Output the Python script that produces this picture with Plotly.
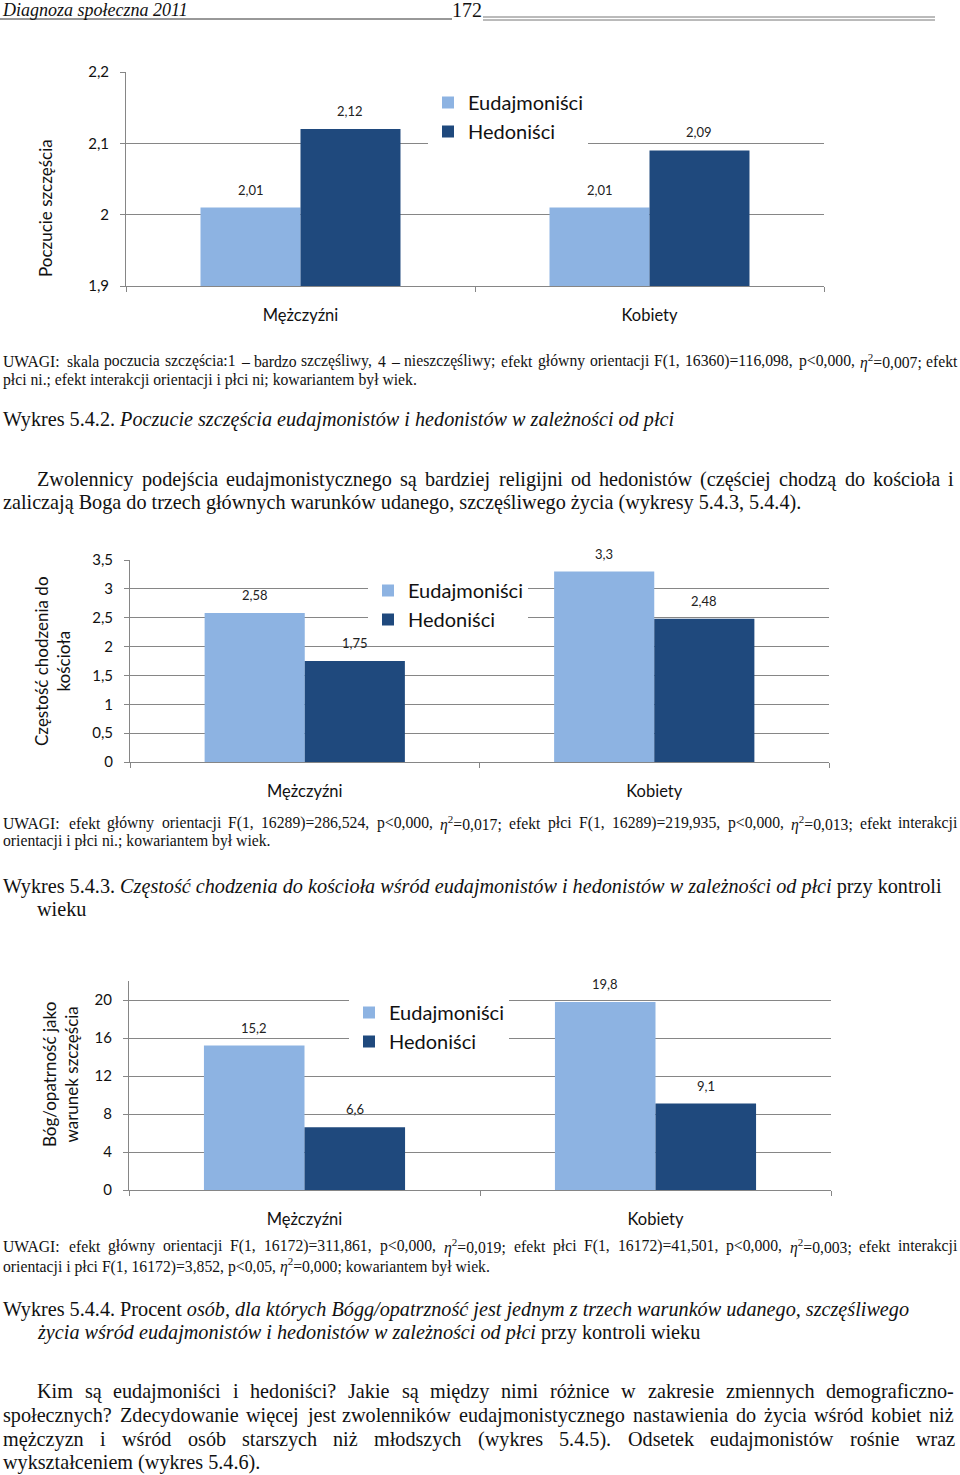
import re
import plotly.graph_objects as go

W, H = 960, 1475

# ---------------- data ----------------
categories = ["Mężczyźni", "Kobiety"]
series_names = ["Eudajmoniści", "Hedoniści"]

happy_eud = [2.01, 2.01]
happy_hed = [2.12, 2.09]
happy_ticks = [1.9, 2.0, 2.1, 2.2]

church_eud = [2.58, 3.3]
church_hed = [1.75, 2.48]
church_ticks = [0, 0.5, 1, 1.5, 2, 2.5, 3, 3.5]

god_eud = [15.2, 19.8]
god_hed = [6.6, 9.1]
god_ticks = [0, 4, 8, 12, 16, 20]

LIGHT = "#8DB3E2"
DARK = "#1F497D"
GRID = "#868686"
CHART_FONT = "Lato"
BODY_FONT = "Liberation Serif"


def X(px):
    return px / W


def P(py):
    return 1 - py / H


def fmt(v):
    return ("%g" % v).replace(".", ",")


fig = go.Figure()

charts = [
    dict(eud=happy_eud, hed=happy_hed, ticks=happy_ticks, rng=[1.9, 2.2],
         xd=[126, 824], yd=[72, 286], title="Poczucie szczęścia", title_pos=(45, 208),
         leg=(428, 83)),
    dict(eud=church_eud, hed=church_hed, ticks=church_ticks, rng=[0, 3.5],
         xd=[130, 829], yd=[560, 762], title="Częstość chodzenia do<br>kościoła", title_pos=(52, 661),
         leg=(368, 571)),
    dict(eud=god_eud, hed=god_hed, ticks=god_ticks, rng=[0, 22],
         xd=[129, 831], yd=[981, 1190], title="Bóg/opatrność jako<br>warunek szczęścia", title_pos=(60, 1075),
         leg=(349, 993)),
]

annotations = []
for i, c in enumerate(charts, start=1):
    sfx = "" if i == 1 else str(i)
    lg = "legend" if i == 1 else f"legend{i}"
    for name, vals, col in [(series_names[0], c["eud"], LIGHT), (series_names[1], c["hed"], DARK)]:
        fig.add_trace(go.Bar(
            x=categories, y=vals, name=name, marker=dict(color=col, line=dict(width=0)),
            xaxis=f"x{sfx}", yaxis=f"y{sfx}", legend=lg, hoverinfo="x+y",
        ))
    plot_w = c["xd"][1] - c["xd"][0]
    half_bar = plot_w / 2 * (1 - 0.427) / 4
    for j, cat in enumerate(categories):
        for s, vals in enumerate([c["eud"], c["hed"]]):
            annotations.append(dict(
                x=cat, y=vals[j], xref=f"x{sfx}", yref=f"y{sfx}",
                text=fmt(vals[j]), showarrow=False,
                xshift=(-half_bar if s == 0 else half_bar), yshift=18,
                font=dict(family=CHART_FONT, size=13, color="#222"),
            ))
    # y-axis title
    annotations.append(dict(
        x=X(c["title_pos"][0]), y=P(c["title_pos"][1]), xref="paper", yref="paper",
        xanchor="center", yanchor="middle", textangle=-90, text=c["title"], showarrow=False,
        font=dict(family=CHART_FONT, size=17, color="#111"),
    ))
    fig.layout[f"xaxis{sfx}"] = dict(
        domain=[X(c["xd"][0]), X(c["xd"][1])], anchor=f"y{sfx}",
        type="category", showline=True, linecolor=GRID, linewidth=1,
        ticks="outside", tickson="boundaries", ticklen=5, tickcolor=GRID,
        showgrid=False, tickfont=dict(family=CHART_FONT, size=16.5, color="#111"),
        ticklabelstandoff=14, fixedrange=True,
    )
    fig.layout[f"yaxis{sfx}"] = dict(
        domain=[P(c["yd"][1]), P(c["yd"][0])], anchor=f"x{sfx}",
        range=c["rng"], tickmode="array", tickvals=c["ticks"],
        showline=True, linecolor=GRID, linewidth=1,
        ticks="outside", ticklen=5, tickcolor=GRID,
        showgrid=True, gridcolor=GRID, gridwidth=1, zeroline=False,
        tickfont=dict(family=CHART_FONT, size=15, color="#111"),
        ticklabelstandoff=8, fixedrange=True,
    )
    fig.layout[lg] = dict(
        x=X(c["leg"][0]), y=P(c["leg"][1]), xanchor="left", yanchor="top",
        bgcolor="white", font=dict(family=CHART_FONT, size=20, color="#111"),
        itemclick=False, itemdoubleclick=False,
    )

# ---------------- page text ----------------
# Times New Roman advance widths (1/1000 em) used to justify lines
REG = {' ': 250, '!': 333, '(': 333, ')': 333, ',': 250, '-': 333, '.': 250, '/': 278,
       ':': 278, ';': 278, '<': 564, '=': 564, '?': 444, '–': 500,
       'A': 722, 'B': 667, 'C': 667, 'D': 722, 'E': 611, 'F': 556, 'G': 722, 'H': 722,
       'I': 333, 'J': 389, 'K': 722, 'L': 611, 'M': 889, 'N': 722, 'O': 722, 'P': 556,
       'Q': 722, 'R': 667, 'S': 556, 'T': 611, 'U': 722, 'V': 722, 'W': 944, 'X': 722,
       'Y': 722, 'Z': 611,
       'a': 444, 'b': 500, 'c': 444, 'd': 500, 'e': 444, 'f': 333, 'g': 500, 'h': 500,
       'i': 278, 'j': 278, 'k': 500, 'l': 278, 'm': 778, 'n': 500, 'o': 500, 'p': 500,
       'q': 500, 'r': 333, 's': 389, 't': 278, 'u': 500, 'v': 500, 'w': 722, 'x': 500,
       'y': 500, 'z': 444, 'η': 500}
BASE = {'ą': 'a', 'ę': 'e', 'ś': 's', 'ć': 'c', 'ź': 'z', 'ż': 'z', 'ł': 'l', 'ó': 'o',
        'ń': 'n', 'Ż': 'Z', 'Ś': 'S', 'Ł': 'L'}


def word_width(word, size):
    total = 0.0
    sup = False
    for tok in re.split(r"(<[^<>]+>|&lt;)", word):
        if not tok:
            continue
        if tok.startswith("<"):
            if tok == "<sup>":
                sup = True
            elif tok == "</sup>":
                sup = False
            continue
        if tok == "&lt;":
            tok = "<"
        for ch in tok:
            ch = BASE.get(ch, ch)
            total += REG.get(ch, 500) * (0.7 if sup else 1.0)
    return total * size / 1000.0


def note(x, py, text, size, italic=False, anchor="left"):
    annotations.append(dict(
        x=X(x), y=P(py), xref="paper", yref="paper", xanchor=anchor, yanchor="middle",
        text=text, showarrow=False, borderpad=0, borderwidth=0,
        font=dict(family=BODY_FONT, size=size, color="#111",
                  style="italic" if italic else "normal"),
    ))


def line(x, py, text, size):
    note(x, py, text, size)


def jline(x0, x1, py, text, size):
    words = text.split(" ")
    widths = [word_width(w, size) for w in words]
    gap = (x1 - x0 - sum(widths)) / (len(words) - 1)
    pos = x0
    for k, w in enumerate(words):
        if k == len(words) - 1:
            note(x1, py, w, size, anchor="right")
        else:
            note(pos, py, w, size)
        pos += widths[k] + gap


eta = "<i>η</i><sup>2</sup>"
SN = 15.7   # notes font size
SB = 20.2   # body font size

note(2, 10, "Diagnoza społeczna 2011", 18, italic=True)
note(467, 10, "172", 20, anchor="center")

jline(3, 958, 361, "UWAGI: skala poczucia szczęścia:1 – bardzo szczęśliwy, 4 – nieszczęśliwy; efekt główny orientacji "
      "F(1, 16360)=116,098, p&lt;0,000, " + eta + "=0,007; efekt", SN)
line(3, 380, "płci ni.; efekt interakcji orientacji i płci ni; kowariantem był wiek.", SN)
line(3, 420, "Wykres 5.4.2. <i>Poczucie szczęścia eudajmonistów i hedonistów w zależności od płci</i>", SB)
jline(37, 954, 479, "Zwolennicy podejścia eudajmonistycznego są bardziej religijni od hedonistów (częściej chodzą do kościoła i", SB)
line(3, 503, "zaliczają Boga do trzech głównych warunków udanego, szczęśliwego życia (wykresy 5.4.3, 5.4.4).", SB)

jline(3, 958, 823, "UWAGI: efekt główny orientacji F(1, 16289)=286,524, p&lt;0,000, " + eta +
      "=0,017; efekt płci F(1, 16289)=219,935, p&lt;0,000, " + eta + "=0,013; efekt interakcji", SN)
line(3, 841, "orientacji i płci ni.; kowariantem był wiek.", SN)
line(3, 886, "Wykres 5.4.3. <i>Częstość chodzenia do kościoła wśród eudajmonistów i hedonistów w zależności od płci</i> przy kontroli", SB)
line(37, 909, "wieku", SB)

jline(3, 958, 1246, "UWAGI: efekt główny orientacji F(1, 16172)=311,861, p&lt;0,000, " + eta +
      "=0,019; efekt płci F(1, 16172)=41,501, p&lt;0,000, " + eta + "=0,003; efekt interakcji", SN)
line(3, 1265, "orientacji i płci F(1, 16172)=3,852, p&lt;0,05, " + eta + "=0,000; kowariantem był wiek.", SN)
line(3, 1309, "Wykres 5.4.4. Procent <i>osób, dla których Bógg/opatrzność jest jednym z trzech warunków udanego, szczęśliwego</i>", SB)
line(37, 1332, "<i>życia wśród eudajmonistów i hedonistów w zależności od płci</i> przy kontroli wieku", SB)

jline(37, 954, 1391, "Kim są eudajmoniści i hedoniści? Jakie są między nimi różnice w zakresie zmiennych demograficzno-", SB)
jline(3, 954, 1415, "społecznych? Zdecydowanie więcej jest zwolenników eudajmonistycznego nastawienia do życia wśród kobiet niż", SB)
jline(3, 955, 1439, "mężczyzn i wśród osób starszych niż młodszych (wykres 5.4.5). Odsetek eudajmonistów rośnie wraz", SB)
line(3, 1462, "wykształceniem (wykres 5.4.6).", SB)

shapes = [
    dict(type="line", xref="paper", yref="paper", x0=0, x1=X(452), y0=P(19), y1=P(19),
         line=dict(color="#333", width=1)),
    dict(type="line", xref="paper", yref="paper", x0=X(483), x1=X(935), y0=P(17), y1=P(17),
         line=dict(color="#777", width=1)),
    dict(type="line", xref="paper", yref="paper", x0=X(483), x1=X(935), y0=P(20), y1=P(20),
         line=dict(color="#777", width=1)),
]

fig.update_layout(
    width=W, height=H, margin=dict(l=0, r=0, t=0, b=0, autoexpand=False),
    paper_bgcolor="white", plot_bgcolor="white",
    barmode="group", bargap=0.427, bargroupgap=0,
    separators=", ",
    annotations=annotations, shapes=shapes,
    showlegend=True,
)

PAGE_FIX = ("document.body.style.margin='0';"
            "var gd=document.getElementById('{plot_id}');"
            "gd.style.position='absolute';gd.style.left='0px';gd.style.top='0px';")

fig.write_html("out.html", config={"displayModeBar": False}, post_script=PAGE_FIX)
